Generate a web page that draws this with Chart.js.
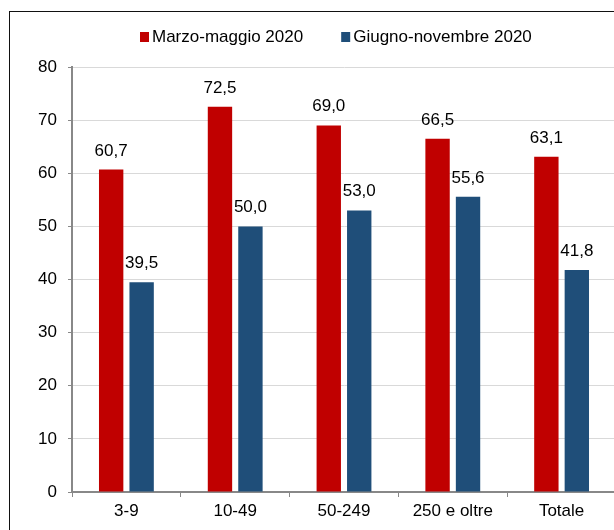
<!DOCTYPE html>
<html>
<head>
<meta charset="utf-8">
<script src="https://cdn.jsdelivr.net/npm/chart.js@4.4.0/dist/chart.umd.min.js"></script>
<style>
  body { margin: 0; background: #fff; overflow: hidden; }
  #frame { position: absolute; left: 9px; top: 11px; width: 700px; height: 600px; border-left: 1px solid #111; border-top: 1px solid #111; }
  #wrap { position: absolute; left: 0; top: 0; width: 620px; height: 530px; }
</style>
</head>
<body>
<div id="frame"></div>
<div id="wrap"><canvas id="chart"></canvas></div>
<script>
const categories = ['3-9', '10-49', '50-249', '250 e oltre', 'Totale'];
const marzoMaggio = [60.7, 72.5, 69.0, 66.5, 63.1];
const giugnoNovembre = [39.5, 50.0, 53.0, 55.6, 41.8];
const yTicks = [0, 10, 20, 30, 40, 50, 60, 70, 80];

const font = "'Liberation Sans', Arial, sans-serif";

// etichette sopra le barre
const valueLabels = {
    id: 'valueLabels',
    afterDatasetsDraw(chart) {
        const ctx = chart.ctx;
        ctx.save();
        ctx.font = '17px ' + font;
        ctx.fillStyle = '#000';
        ctx.textAlign = 'center';
        ctx.textBaseline = 'alphabetic';
        chart.data.datasets.forEach((ds, i) => {
            chart.getDatasetMeta(i).data.forEach((bar, j) => {
                ctx.fillText(ds.data[j].toFixed(1).replace('.', ','), bar.x, bar.y - 14);
            });
        });
        ctx.restore();
    }
};

// legenda in alto
const topLegend = {
    id: 'topLegend',
    afterDraw(chart) {
        const ctx = chart.ctx;
        ctx.save();
        ctx.font = '17px ' + font;
        ctx.textBaseline = 'alphabetic';
        ctx.textAlign = 'left';
        let x = 140;
        chart.data.datasets.forEach(ds => {
            ctx.fillStyle = ds.backgroundColor;
            ctx.fillRect(x, 32, 9, 10);
            ctx.fillStyle = '#000';
            ctx.fillText(ds.label, x + 12, 42);
            x += 12 + ctx.measureText(ds.label).width + 38;
        });
        ctx.restore();
    }
};

const ctx = document.getElementById('chart').getContext('2d');
new Chart(ctx, {
    type: 'bar',
    data: {
        labels: categories,
        datasets: [{
            label: 'Marzo-maggio 2020',
            data: marzoMaggio,
            backgroundColor: '#C00000',
            categoryPercentage: 0.56,
            barPercentage: 0.8
        }, {
            label: 'Giugno-novembre 2020',
            data: giugnoNovembre,
            backgroundColor: '#1F4E79',
            categoryPercentage: 0.56,
            barPercentage: 0.8
        }]
    },
    options: {
        responsive: true,
        maintainAspectRatio: false,
        animation: false,
        layout: { padding: { top: 67, left: 0, right: 4, bottom: 0 } },
        plugins: {
            legend: { display: false },
            tooltip: { enabled: false }
        },
        scales: {
            x: {
                afterFit(scale) { scale.height = 38; },
                grid: { drawOnChartArea: false, drawTicks: true, tickLength: 5, tickColor: '#888', offset: true },
                border: { color: '#888', width: 2 },
                ticks: { color: '#000', font: { family: font, size: 17 }, padding: 4 }
            },
            y: {
                min: 0,
                max: 80,
                afterFit(scale) { scale.width = 72; },
                afterBuildTicks(scale) { scale.ticks = yTicks.map(v => ({ value: v })); },
                grid: { color: '#d9d9d9', tickColor: '#888', tickLength: 4 },
                border: { color: '#888', width: 2 },
                ticks: { color: '#000', font: { family: font, size: 17 }, padding: 11 }
            }
        }
    },
    plugins: [valueLabels, topLegend]
});
</script>
</body>
</html>
